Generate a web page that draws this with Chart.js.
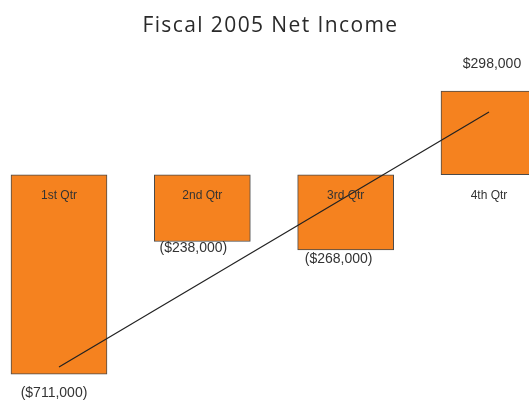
<!DOCTYPE html>
<html>
<head>
<meta charset="utf-8">
<script src="https://cdn.jsdelivr.net/npm/chart.js@4/dist/chart.umd.min.js"></script>
<style>
  html, body { margin: 0; padding: 0; background: #fff; }
  #wrap { width: 529px; height: 403px; position: relative; }
</style>
</head>
<body>
<div id="wrap"><canvas id="income-chart"></canvas></div>
<script>
const quarters = ['1st Qtr', '2nd Qtr', '3rd Qtr', '4th Qtr'];
const quarterPos = [1, 2, 3, 4];
const netIncome = [-711000, -238000, -268000, 298000];
// trend line, at the first and last quarter
const trendEnds = [-686000, 224000];

function formatMoney(value) {
  const text = '$' + Math.abs(value).toLocaleString('en-US');
  return value < 0 ? `(${text})` : text;
}

// wider tracking for the title only, nudged a little right like the original
const titleSpacing = {
  id: 'titleSpacing',
  beforeDraw(chart) {
    chart.ctx.save();
    chart.ctx.letterSpacing = '1.4px';
    chart.ctx.translate(6, 0);
  },
  beforeDatasetsDraw(chart) {
    chart.ctx.restore();
  }
};

const barLabels = {
  id: 'barLabels',
  afterDatasetsDraw(chart, args, opts) {
    const ctx = chart.ctx;
    const meta = chart.getDatasetMeta(0);
    ctx.save();
    ctx.letterSpacing = '0px';
    ctx.fillStyle = '#333';
    ctx.textAlign = 'center';
    ctx.textBaseline = 'middle';
    meta.data.forEach((bar, i) => {
      const value = netIncome[i];
      ctx.font = '12px "Liberation Sans", Arial, sans-serif';
      ctx.fillText(quarters[i], bar.x, bar.base + 21);
      ctx.font = '14px "Liberation Sans", Arial, sans-serif';
      const off = opts.valueOffsets[i];
      const y = value < 0 ? bar.y + off : bar.y - off;
      ctx.fillText(formatMoney(value), bar.x - opts.valueShift[i], y);
    });
    ctx.restore();
  }
};

const ctx = document.getElementById('income-chart').getContext('2d');

new Chart(ctx, {
  type: 'bar',
  data: {
    datasets: [
      {
        type: 'bar',
        data: quarterPos.map((x, i) => ({ x, y: netIncome[i] })),
        backgroundColor: '#F5821F',
        borderColor: '#4a4a4a',
        borderWidth: 1,
        borderSkipped: false,
        barThickness: 96,
        order: 2
      },
      {
        type: 'line',
        data: [
          { x: quarterPos[0], y: trendEnds[0] },
          { x: quarterPos[quarterPos.length - 1], y: trendEnds[1] }
        ],
        borderColor: '#222',
        borderWidth: 1.2,
        pointRadius: 0,
        fill: false,
        order: 1
      }
    ]
  },
  options: {
    responsive: true,
    maintainAspectRatio: false,
    animation: false,
    layout: { padding: 0 },
    plugins: {
      legend: { display: false },
      tooltip: { enabled: false },
      title: {
        display: true,
        text: 'Fiscal 2005 Net Income',
        color: '#2a2a2a',
        font: { family: '"Open Sans", sans-serif', size: 21, weight: 'normal' },
        padding: { top: 13, bottom: 7 }
      },
      barLabels: {
        valueOffsets: [19, 7, 9, 27],
        valueShift: [5, 9, 7, -3]
      }
    },
    scales: {
      x: {
        type: 'linear',
        display: false,
        offset: false,
        min: 0.5884,
        max: 4.2791
      },
      y: {
        display: false,
        min: -814000,
        max: 462000
      }
    }
  },
  plugins: [titleSpacing, barLabels]
});
</script>
</body>
</html>
